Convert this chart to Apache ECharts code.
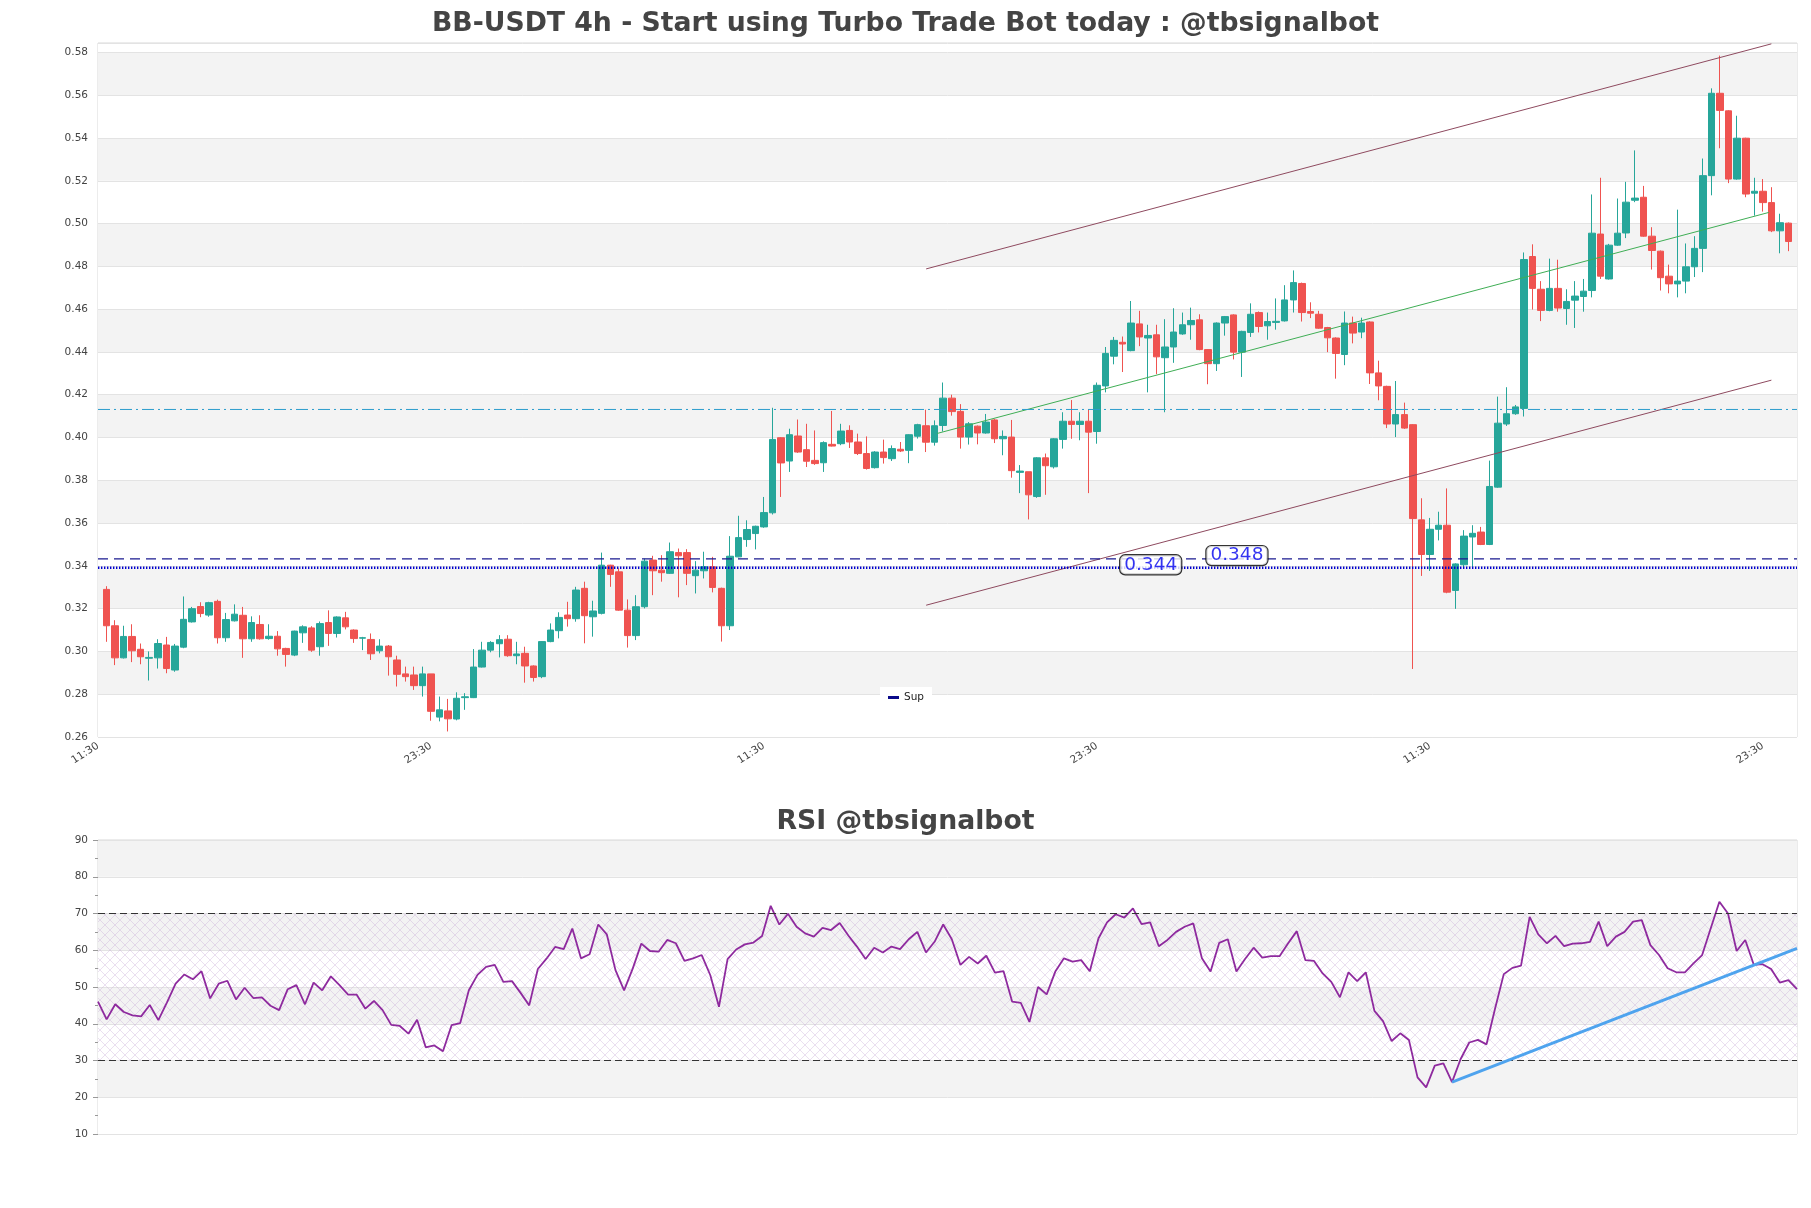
<!DOCTYPE html>
<html><head><meta charset="utf-8">
<script src="https://cdn.jsdelivr.net/npm/echarts@6/dist/echarts.min.js"></script>
<style>html,body{margin:0;padding:0;background:#fff}#c{width:1811px;height:1208px}</style>
</head><body><div id="c"></div>
<script>
// ---------- DATA ----------
const timeSlots = ['11:30','15:30','19:30','23:30','03:30','07:30'];
const slotCount = 200;            // categories of the price axis (first and last are empty slots)
const priceTicks = [0.26,0.28,0.30,0.32,0.34,0.36,0.38,0.40,0.42,0.44,0.46,0.48,0.50,0.52,0.54,0.56,0.58];
const rsiTicks = [10,20,30,40,50,60,70,80,90];

const candleOpen = [.329,.312,.297,.307,.301,.2968,.297,.303,.2913,.302,
.3138,.321,.317,.3234,.3064,.3143,.3169,.3059,.3126,.306,
.3071,.3014,.2983,.3087,.311,.3022,.3135,.3084,.3157,.310,
.3062,.3056,.3003,.3025,.296,.2895,.289,.284,.2895,.2693,
.2722,.2684,.2784,.2784,.2927,.3006,.3036,.3057,.298,.2991,
.2932,.2882,.3046,.3097,.317,.3153,.3295,.3162,.3178,.3403,
.3372,.3193,.3074,.3209,.3427,.338,.3365,.3462,.3462,.3354,
.3377,.3396,.3295,.312,.3442,.3523,.3551,.3582,.3648,.3999,
.389,.4007,.3943,.3893,.3882,.3968,.3971,.4033,.3979,.3925,
.3859,.3932,.3901,.3945,.394,.4006,.4055,.3978,.4056,.4184,
.4122,.4002,.4053,.4021,.4082,.3994,.4002,.3837,.384,.3724,
.3905,.3863,.3991,.4076,.4061,.4076,.4028,.4241,.438,.4445,
.4406,.4531,.4465,.448,.4373,.4423,.4484,.4527,.455,.4411,
.4345,.4535,.4573,.4399,.4491,.4584,.4522,.4538,.4545,.4643,
.472,.4589,.4576,.4514,.4465,.4388,.4535,.4493,.454,.4302,
.4239,.4063,.4107,.406,.3615,.3453,.3571,.359,.3285,.3405,
.3535,.3558,.350,.3768,.4063,.4111,.4136,.4846,.4693,.4594,
.4697,.4603,.4642,.4659,.4687,.4951,.4741,.4899,.4956,.5109,
.5123,.4941,.4871,.4754,.4718,.4731,.4798,.4884,.5224,.5609,
.5527,.5208,.5399,.5142,.5151,.5098,.4966,.5002];
const candleClose = [.312,.297,.307,.3003,.2975,.2972,.3037,.292,.3025,.315,
.320,.3177,.3228,.3064,.3149,.3174,.3059,.3135,.3059,.3071,
.3012,.2986,.3095,.3115,.3006,.313,.3084,.3161,.3115,.306,
.3064,.2989,.3025,.2975,.2893,.2882,.284,.2895,.272,.2727,
.2685,.2781,.2788,.2927,.3006,.3042,.3055,.298,.2988,.2932,
.2878,.3046,.310,.3159,.3153,.3287,.3167,.3189,.3403,.336,
.3193,.3074,.3209,.3422,.3377,.3368,.3466,.3447,.3365,.338,
.3396,.3299,.312,.3445,.3532,.357,.3585,.3649,.3991,.3881,
.4013,.3932,.3889,.3878,.3976,.396,.403,.3979,.3925,.3855,
.3932,.3906,.3948,.3937,.4013,.406,.3978,.4055,.4184,.4121,
.4002,.4064,.4021,.4072,.3994,.4005,.3845,.3843,.3732,.3905,
.3868,.3994,.4076,.4061,.4076,.4025,.4244,.4393,.4454,.4437,
.4535,.447,.4477,.4377,.4423,.4493,.4527,.4547,.4411,.4345,
.4535,.4565,.4399,.4496,.4576,.4519,.4542,.4543,.4643,.4724,
.4584,.4581,.4511,.4466,.4393,.4535,.4488,.4535,.4302,.4241,
.4063,.4107,.4044,.3621,.3453,.3571,.359,.3277,.3409,.3539,
.3552,.350,.3771,.4067,.4111,.4143,.4832,.4697,.4594,.4697,
.4605,.4636,.4661,.4684,.4955,.4754,.4899,.4955,.510,.5119,
.4941,.4874,.4747,.4718,.4731,.4798,.4884,.5224,.5609,.5529,
.5208,.5399,.5138,.5151,.5098,.4966,.5004,.4916];
const candleLow = [.3045,.2936,.2967,.295,.294,.2864,.292,.2898,.2905,.3015,
.3135,.316,.3162,.3037,.3045,.314,.297,.3045,.3055,.3055,
.298,.2929,.2978,.304,.2998,.298,.3026,.3065,.3103,.304,
.3006,.296,.2991,.2887,.2836,.2859,.282,.2789,.2676,.2673,
.2626,.2678,.2727,.2782,.2925,.2996,.2972,.2975,.294,.2854,
.2859,.2875,.3043,.3061,.3116,.3139,.3038,.3069,.3173,.3302,
.319,.3018,.3053,.3201,.3263,.3326,.3362,.3253,.331,.3271,
.3341,.3276,.3046,.310,.344,.3489,.3477,.3578,.364,.3722,
.3839,.3928,.3862,.3872,.3839,.3958,.3964,.3951,.3918,.385,
.3855,.3878,.389,.3932,.388,.3995,.3932,.3962,.4028,.4102,
.3948,.3967,.3968,.4018,.3974,.3917,.3812,.374,.3617,.3718,
.3732,.3855,.3948,.3994,.3987,.374,.3971,.4211,.4342,.4306,
.4403,.4427,.4211,.4296,.4118,.4349,.448,.4457,.4408,.4249,
.4311,.4476,.4365,.4283,.447,.4491,.4457,.4504,.4542,.4584,
.4542,.4558,.4508,.4399,.4275,.4338,.444,.4464,.425,.4174,
.4044,.4002,.404,.2918,.3353,.3376,.3519,.3272,.3199,.3386,
.3395,.3497,.3497,.3765,.4054,.4106,.4098,.4598,.4544,.459,
.4588,.4527,.4512,.4588,.4655,.4741,.4738,.4896,.4932,.510,
.4938,.4785,.4687,.4674,.4655,.4674,.475,.4773,.5132,.5352,
.5189,.5205,.5123,.5037,.5056,.496,.4861,.4871];
const candleHigh = [.3305,.3146,.312,.3127,.3037,.300,.3057,.3068,.3035,.3257,
.3208,.323,.3232,.3242,.318,.322,.3208,.3164,.3169,.3127,
.3095,.3017,.3097,.3122,.3118,.314,.3192,.3164,.3185,.3103,
.3068,.3084,.3057,.303,.298,.2929,.2929,.2929,.2895,.2789,
.2778,.2809,.2805,.3011,.3045,.3048,.3076,.3076,.3045,.3022,
.2935,.3048,.3131,.3183,.3232,.3302,.3326,.3237,.3462,.3405,
.3388,.3243,.3263,.3434,.3447,.345,.3509,.3481,.3478,.3422,
.3466,.3442,.3298,.3539,.3634,.3613,.3588,.3722,.4139,.4002,
.4041,.4084,.4064,.4033,.3982,.4124,.4064,.4057,.4018,.4005,
.3936,.399,.3963,.3979,.4015,.4064,.413,.408,.4257,.420,
.4156,.4072,.4056,.411,.4087,.4033,.4082,.3871,.384,.3908,
.3925,.3997,.4118,.4175,.4118,.4133,.4257,.4423,.447,.4472,
.4638,.4592,.4527,.4527,.4553,.4604,.4584,.4607,.4576,.4413,
.4538,.4568,.4576,.4499,.4627,.4589,.4584,.465,.4712,.4781,
.4724,.4632,.4592,.4517,.4468,.4589,.4565,.456,.4543,.4359,
.4242,.4264,.4163,.4062,.3716,.3624,.3653,.3762,.3412,.3567,
.359,.3582,.3892,.4191,.4235,.4152,.4865,.4903,.4731,.4836,
.4831,.4693,.4731,.4741,.5136,.5214,.4905,.5117,.5195,.5342,
.5176,.4983,.4874,.4808,.5065,.4907,.4941,.5304,.5632,.5785,
.553,.5504,.5401,.5214,.5208,.517,.5046,.5005];

const rsiValues = [46.0,41.2,45.3,43.2,42.3,42.0,45.1,41.0,45.8,50.9,
53.4,52.1,54.3,46.9,50.9,51.7,46.6,49.8,47.0,47.2,
44.9,43.7,49.4,50.5,45.3,51.2,49.1,52.9,50.5,47.9,
47.9,44.1,46.2,43.7,39.7,39.4,37.3,41.1,33.6,34.1,
32.5,39.6,40.2,49.1,53.3,55.5,56.0,51.4,51.6,48.4,
45.0,54.9,57.7,60.9,60.3,65.9,57.8,58.9,67.0,64.3,
54.6,49.1,55.0,61.8,59.8,59.6,62.8,61.9,57.1,57.8,
58.7,53.2,44.6,57.6,60.2,61.6,62.1,63.9,72.1,67.0,
69.9,66.4,64.6,63.7,66.1,65.5,67.4,64.0,61.0,57.6,
60.7,59.4,61.0,60.3,63.0,65.0,59.4,62.3,67.0,63.0,
56.0,58.2,56.4,58.5,53.9,54.3,46.0,45.7,40.5,50.0,
48.0,54.2,57.8,56.9,57.3,54.3,63.2,67.6,69.8,68.9,
71.4,67.1,67.6,61.1,62.8,65.0,66.4,67.3,57.8,54.2,
62.0,63.0,54.2,57.6,60.7,58.0,58.4,58.4,61.9,65.2,
57.3,57.1,53.7,51.4,47.2,54.0,51.6,54.0,43.5,40.7,
35.3,37.4,35.6,25.4,22.7,28.6,29.2,24.1,30.4,34.9,
35.6,34.4,44.2,53.5,55.2,55.8,69.1,64.3,61.9,63.9,
61.1,61.8,61.9,62.3,67.8,61.1,63.7,65.0,67.8,68.2,
61.4,58.7,55.1,54.0,54.0,56.4,58.7,66.0,73.2,70.0,
59.8,62.8,56.0,56.2,54.9,51.2,51.9,49.4];

// channel & guide lines, in (slot index, price)
const channelUpper = [[97, 0.4788], [196, 0.5840]];
const channelLower = [[97, 0.3216], [196, 0.4268]];
const channelMid   = [[98.3, 0.4019], [195.7, 0.5052]];
const levelResist = 0.4131;   // cyan dash-dot
const levelSup    = 0.3433;   // navy dashed (legend "Sup")
const levelDotted = 0.3391;   // blue dotted
const priceTags = [[123.3, 0.3405, '0.344'], [133.4, 0.3448, '0.348']];
const rsiTrend = [[157, 24.1], [197, 60.5]];
const rsiLevels = [70, 30];

// ---------- BUILD ----------
const slotLabels = [];
for (let k = 0; k < slotCount; k++) slotLabels.push('d' + Math.floor(k / 6) + ' ' + timeSlots[k % 6]);
const rsiLabels = slotLabels.slice(1, 1 + rsiValues.length);
const candleData = candleOpen.map((o, k) => [k + 1, o, candleClose[k], candleLow[k], candleHigh[k]]);

function hatchPattern() {
  const c = document.createElement('canvas');
  c.width = 10; c.height = 10;
  const g = c.getContext('2d');
  g.strokeStyle = 'rgba(200,170,215,0.5)';
  g.lineWidth = 0.75;
  g.beginPath();
  g.moveTo(0, 0); g.lineTo(10, 10);
  g.moveTo(10, 0); g.lineTo(0, 10);
  g.stroke();
  return c;
}

const FONT = 'DejaVu Sans';
const chart = echarts.init(document.getElementById('c'), null, {renderer: 'canvas', width: 1811, height: 1208});
const hLine = (y) => [[0, y], [slotCount - 1, y]];
const isTick = (v, arr) => arr.some(t => Math.abs(t - v) < 1e-6);

chart.setOption({
  animation: false,
  backgroundColor: '#fff',
  textStyle: {fontFamily: FONT},
  title: [
    {text: 'BB-USDT 4h - Start using Turbo Trade Bot today : @tbsignalbot', left: 'center', top: 6,
     textStyle: {fontFamily: FONT, fontSize: 26.7, fontWeight: 'bold', color: '#444'}},
    {text: 'RSI @tbsignalbot', left: 'center', top: 804,
     textStyle: {fontFamily: FONT, fontSize: 26.7, fontWeight: 'bold', color: '#444'}}
  ],
  legend: {data: ['Sup'], left: 880, top: 687, backgroundColor: '#fff', padding: [5, 8],
    icon: 'rect', itemWidth: 11, itemHeight: 3, itemGap: 8,
    textStyle: {fontFamily: FONT, fontSize: 10.5, color: '#222'}},
  grid: [
    {left: 98, right: 14, top: 43, bottom: 471, show: true, borderColor: '#d8d8d8', borderWidth: 1},
    {left: 98, right: 14, top: 840, bottom: 74, show: true, borderColor: '#d8d8d8', borderWidth: 1}
  ],
  xAxis: [
    {type: 'category', gridIndex: 0, data: slotLabels, boundaryGap: false,
     axisLine: {show: false}, axisTick: {show: false}, splitLine: {show: false},
     axisLabel: {interval: 38, rotate: 33, margin: 8, fontSize: 10.5, color: '#444', fontFamily: FONT,
       formatter: v => v.slice(-5)}},
    {type: 'value', gridIndex: 0, min: 0, max: slotCount - 1, show: false},
    {type: 'category', gridIndex: 1, data: rsiLabels, boundaryGap: false,
     axisLine: {show: false}, axisTick: {show: false}, axisLabel: {show: false}, splitLine: {show: false}}
  ],
  yAxis: [
    {type: 'value', gridIndex: 0, min: 0.26, max: 0.5844, interval: 0.02, scale: true,
     axisLine: {show: false}, axisTick: {show: false},
     axisLabel: {fontSize: 10.5, color: '#444', margin: 10, fontFamily: FONT,
       formatter: v => isTick(v, priceTicks) ? v.toFixed(2) : ''},
     splitLine: {lineStyle: {color: '#e3e3e3', width: 1}},
     splitArea: {show: true, areaStyle: {color: ['#ffffff', '#f3f3f3']}}},
    {type: 'value', gridIndex: 1, min: 10, max: 90, interval: 10,
     axisLine: {show: false},
     axisTick: {show: true, length: 5, lineStyle: {color: '#999'}},
     minorTick: {show: true, splitNumber: 2, length: 3, lineStyle: {color: '#999'}},
     axisLabel: {fontSize: 10.5, color: '#444', margin: 10, fontFamily: FONT,
       formatter: v => isTick(v, rsiTicks) ? String(v) : ''},
     splitLine: {lineStyle: {color: '#e3e3e3', width: 1}},
     splitArea: {show: true, areaStyle: {color: ['#ffffff', '#f3f3f3']}}}
  ],
  series: [
    {type: 'candlestick', name: 'BB-USDT', xAxisIndex: 0, yAxisIndex: 0, data: candleData,
     encode: {x: 0, y: [1, 2, 3, 4]}, barWidth: 7, z: 3,
     itemStyle: {color: '#26a69a', color0: '#ef5350', borderColor: '#26a69a', borderColor0: '#ef5350', borderWidth: 1}},
    {type: 'line', name: 'chanUp', xAxisIndex: 1, yAxisIndex: 0, data: channelUpper, symbol: 'none', silent: true, z: 4,
     lineStyle: {color: '#8e4a5f', width: 1}},
    {type: 'line', name: 'chanLow', xAxisIndex: 1, yAxisIndex: 0, data: channelLower, symbol: 'none', silent: true, z: 4,
     lineStyle: {color: '#8e4a5f', width: 1}},
    {type: 'line', name: 'chanMid', xAxisIndex: 1, yAxisIndex: 0, data: channelMid, symbol: 'none', silent: true, z: 4,
     lineStyle: {color: '#3fae55', width: 1}},
    {type: 'line', name: 'resist', xAxisIndex: 1, yAxisIndex: 0, data: hLine(levelResist), symbol: 'none', silent: true, z: 5,
     lineStyle: {color: '#2b9ccc', width: 1, type: [12, 4, 2, 4]}},
    {type: 'line', name: 'Sup', xAxisIndex: 1, yAxisIndex: 0, data: hLine(levelSup), symbol: 'none', silent: true, z: 5,
     itemStyle: {color: '#0a0a8a'}, lineStyle: {color: '#1a1a90', width: 1.3, type: [10, 6]}},
    {type: 'line', name: 'dotted', xAxisIndex: 1, yAxisIndex: 0, data: hLine(levelDotted), symbol: 'none', silent: true, z: 5,
     lineStyle: {color: '#0000d0', width: 2.6, type: [1.4, 1.6]}},
    {type: 'scatter', name: 'tags', xAxisIndex: 1, yAxisIndex: 0, data: priceTags, symbolSize: 1, silent: true, z: 8,
     itemStyle: {color: 'rgba(0,0,0,0)'},
     label: {show: true, position: 'inside', formatter: p => p.value[2], fontFamily: FONT, fontSize: 18.5, color: '#0000ee',
       backgroundColor: '#fff', borderColor: '#000', borderWidth: 1.2, borderRadius: 5, padding: [1, 4, 0, 4], lineHeight: 18}},
    {type: 'line', name: 'RSI', xAxisIndex: 2, yAxisIndex: 1, data: rsiValues, symbol: 'none', z: 4,
     lineStyle: {color: '#8e2a9e', width: 1.8},
     markArea: {silent: true, itemStyle: {color: {image: hatchPattern(), repeat: 'repeat'}},
       data: [[{yAxis: rsiLevels[1]}, {yAxis: rsiLevels[0]}]]},
     markLine: {silent: true, symbol: 'none', label: {show: false},
       lineStyle: {color: '#333', width: 1.2, type: [7, 4]},
       data: rsiLevels.map(v => ({yAxis: v}))}},
    {type: 'line', name: 'rsiTrend', xAxisIndex: 2, yAxisIndex: 1, data: rsiTrend, symbol: 'none', silent: true, z: 5,
     lineStyle: {color: '#4ea3ee', width: 3}}
  ]
});
</script>
</body></html>
